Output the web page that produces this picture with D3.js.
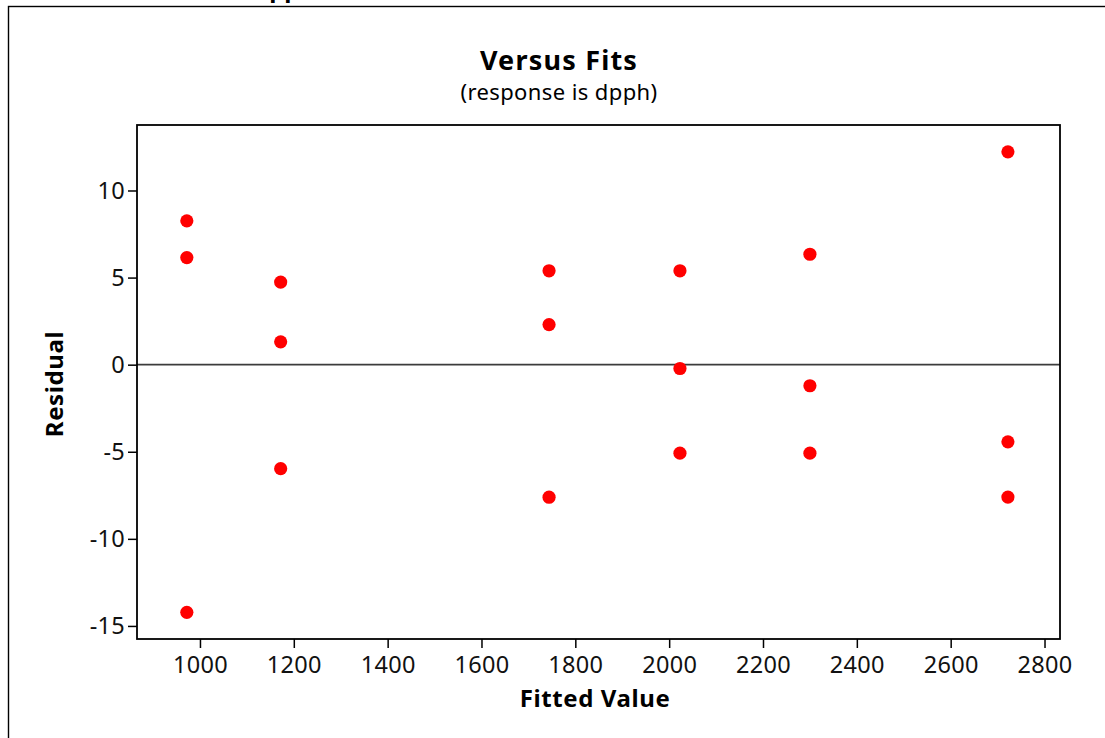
<!DOCTYPE html>
<html>
<head>
<meta charset="utf-8">
<script src="https://cdn.jsdelivr.net/npm/d3@7"></script>
<style>
body{margin:0;background:#fff;}
svg{display:block;font-family:"Noto Sans",sans-serif;}
</style>
</head>
<body>
<div id="chart"></div>
<script>
const width=1105;
const height=738;
const margin={top:125,right:45,bottom:99,left:137};

// fitted values and residuals
const fitted=[972,972,972,1172,1172,1172,1744,1744,1744,2023,2023,2023,2300,2300,2300,2722,2722,2722];
const residual=[8.26,6.15,-14.22,4.74,1.31,-5.97,5.39,2.30,-7.61,5.39,-0.22,-5.08,6.34,-1.21,-5.08,12.22,-4.43,-7.60];
const xticks=[1000,1200,1400,1600,1800,2000,2200,2400,2600,2800];
const yticks=[-15,-10,-5,0,5,10];

const points=fitted.map((f,i)=>({x:f,y:residual[i]}));

const svg=d3.select("#chart")
    .append("svg")
    .attr("width",width)
    .attr("height",height);

// outer frame (runs off the right and bottom)
svg.append("rect")
    .attr("x",8.5).attr("y",6.5)
    .attr("width",1200).attr("height",900)
    .attr("fill","none").attr("stroke","#000").attr("stroke-width",1.4);

// cut-off header text above the frame
svg.append("text")
    .attr("x",254).attr("y",-3)
    .attr("font-weight","bold").attr("font-size",24)
    .text("dpph");

const xscale=d3.scaleLinear()
    .domain([865.8,2833])
    .range([margin.left,width-margin.right]);
const yscale=d3.scaleLinear()
    .domain([-15.75,13.76])
    .range([height-margin.bottom,margin.top]);

const xaxis=svg.append("g")
    .attr("transform",`translate(0,${height-margin.bottom})`)
    .call(d3.axisBottom(xscale).tickValues(xticks).tickSize(9).tickPadding(8).tickFormat(d3.format("d")));
const yaxis=svg.append("g")
    .attr("transform",`translate(${margin.left},0)`)
    .call(d3.axisLeft(yscale).tickValues(yticks).tickSize(9).tickPadding(3).tickFormat(d=>d<0?"-"+Math.abs(d):d));
[xaxis,yaxis].forEach(a=>{
    a.select(".domain").remove();
    a.selectAll(".tick line").attr("stroke","#000").attr("stroke-width",1.5);
    a.selectAll(".tick text").attr("font-size",23.5).attr("letter-spacing",0.3).attr("fill","#111").attr("font-family","'Noto Sans',sans-serif");
});

// reference line at zero
svg.append("line")
    .attr("x1",margin.left).attr("x2",width-margin.right)
    .attr("y1",yscale(0)).attr("y2",yscale(0))
    .attr("stroke","#3c3c3c").attr("stroke-width",1.6);

svg.selectAll(".pt")
    .data(points)
    .enter()
    .append("circle")
    .attr("class","pt")
    .attr("cx",d=>xscale(d.x))
    .attr("cy",d=>yscale(d.y))
    .attr("r",6.6)
    .attr("fill","#ff0000");

// plot frame
svg.append("rect")
    .attr("x",margin.left).attr("y",margin.top)
    .attr("width",width-margin.left-margin.right)
    .attr("height",height-margin.top-margin.bottom)
    .attr("fill","none").attr("stroke","#000").attr("stroke-width",1.8);

svg.append("text")
    .attr("x",559).attr("y",70)
    .attr("text-anchor","middle").attr("font-weight","bold").attr("font-size",27).attr("letter-spacing",1.2)
    .text("Versus Fits");
svg.append("text")
    .attr("x",559).attr("y",100)
    .attr("text-anchor","middle").attr("font-size",22).attr("letter-spacing",0.4)
    .text("(response is dpph)");
svg.append("text")
    .attr("x",595).attr("y",707)
    .attr("text-anchor","middle").attr("font-weight","bold").attr("font-size",24).attr("letter-spacing",0.6)
    .text("Fitted Value");
svg.append("text")
    .attr("transform","translate(63,384) rotate(-90)")
    .attr("text-anchor","middle").attr("font-weight","bold").attr("font-size",24).attr("letter-spacing",0.6)
    .text("Residual");
</script>
</body>
</html>
